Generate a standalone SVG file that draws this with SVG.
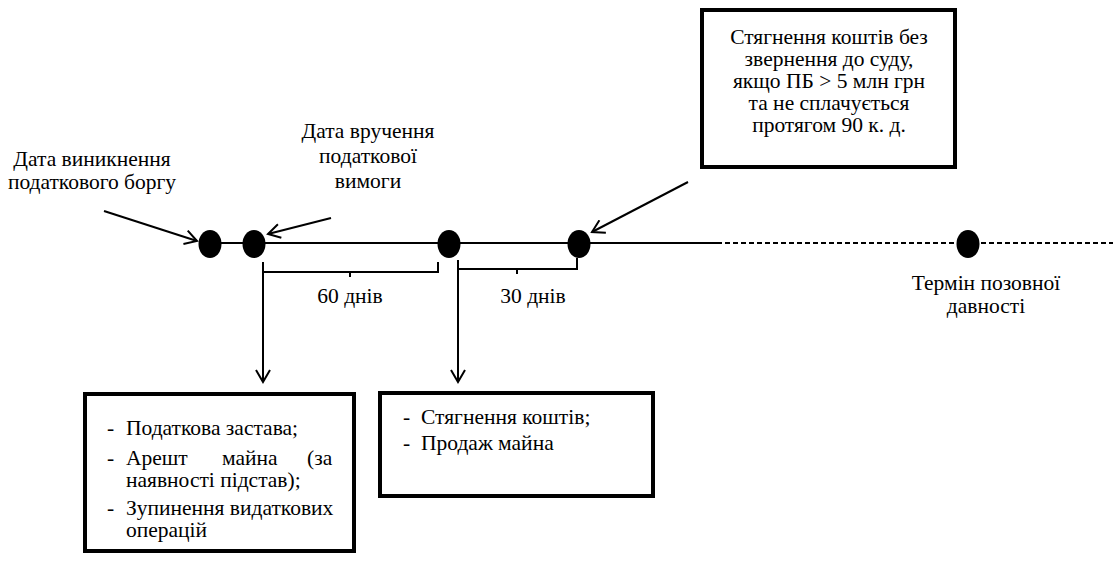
<svg xmlns="http://www.w3.org/2000/svg" width="1113" height="563" viewBox="0 0 1113 563">
<style>
text{font-family:'Liberation Serif','DejaVu Serif','Times New Roman',serif;font-size:21.5px;fill:#000}
.c{text-anchor:middle}
.ln{stroke:#000;stroke-width:2;fill:none}
.box{fill:#fff;stroke:#000;stroke-width:4}
.dot{fill:#000}
</style>
<defs>
<marker id="v" markerWidth="16" markerHeight="16" refX="14" refY="8" orient="auto" markerUnits="userSpaceOnUse">
<path d="M2,1 L14,8 L2,15" fill="none" stroke="#000" stroke-width="2"/>
</marker>
</defs>
<g id="connectors">
<line class="ln" x1="210" y1="243" x2="717" y2="243"/>
<line class="ln" x1="717" y1="243" x2="1113" y2="243" stroke-dasharray="5,3"/>
<line class="ln" x1="104" y1="211" x2="197" y2="241" marker-end="url(#v)"/>
<line class="ln" x1="331" y1="218" x2="268" y2="234" marker-end="url(#v)"/>
<line class="ln" x1="688" y1="182" x2="592" y2="232" marker-end="url(#v)"/>
<path class="ln" d="M263,262 V272 H438 V262 M350,272 V277"/>
<path class="ln" d="M458,260 V269 H577 V258 M517,269 V274"/>
<line class="ln" x1="263" y1="272" x2="263" y2="382" marker-end="url(#v)"/>
<line class="ln" x1="458" y1="269" x2="458" y2="382" marker-end="url(#v)"/>
</g>
<g id="dots">
<ellipse class="dot" cx="210" cy="244" rx="11.5" ry="14"/>
<ellipse class="dot" cx="254" cy="244" rx="11.5" ry="14"/>
<ellipse class="dot" cx="449" cy="244" rx="11.5" ry="14"/>
<ellipse class="dot" cx="579" cy="244" rx="11.5" ry="14"/>
<ellipse class="dot" cx="968" cy="244" rx="11.5" ry="14"/>
</g>
<g id="label-debt">
<text class="c"><tspan x="92" y="166">Дата виникнення</tspan><tspan x="92" y="189">податкового боргу</tspan></text>
</g>
<g id="label-demand">
<text class="c"><tspan x="368" y="138">Дата вручення</tspan><tspan x="368" y="163">податкової</tspan><tspan x="368" y="188">вимоги</tspan></text>
</g>
<g id="label-60">
<text class="c" x="350" y="303">60 днів</text>
</g>
<g id="label-30">
<text class="c" x="533" y="303">30 днів</text>
</g>
<g id="label-limit">
<text class="c"><tspan x="986" y="290">Термін позовної</tspan><tspan x="986" y="313">давності</tspan></text>
</g>
<g id="box-top">
<rect class="box" x="702" y="10" width="253" height="157"/>
<text class="c"><tspan x="829" y="44">Стягнення коштів без</tspan><tspan x="829" y="66">звернення до суду,</tspan><tspan x="829" y="88">якщо ПБ &gt; 5 млн грн</tspan><tspan x="829" y="110">та не сплачується</tspan><tspan x="829" y="132">протягом 90 к. д.</tspan></text>
</g>
<g id="box-left">
<rect class="box" x="85" y="394" width="269" height="157"/>
<text><tspan x="107" y="435">-</tspan><tspan x="126" y="435">Податкова застава;</tspan><tspan x="107" y="465">-</tspan><tspan x="126" y="465">Арешт</tspan><tspan x="222" y="465">майна</tspan><tspan x="307" y="465">(за</tspan><tspan x="126" y="487">наявності підстав);</tspan><tspan x="107" y="515">-</tspan><tspan x="126" y="515">Зупинення видаткових</tspan><tspan x="126" y="537">операцій</tspan></text>
</g>
<g id="box-mid">
<rect class="box" x="380" y="393" width="273" height="103"/>
<text><tspan x="403" y="424">-</tspan><tspan x="421" y="424">Стягнення коштів;</tspan><tspan x="403" y="450">-</tspan><tspan x="421" y="450">Продаж майна</tspan></text>
</g>
</svg>
